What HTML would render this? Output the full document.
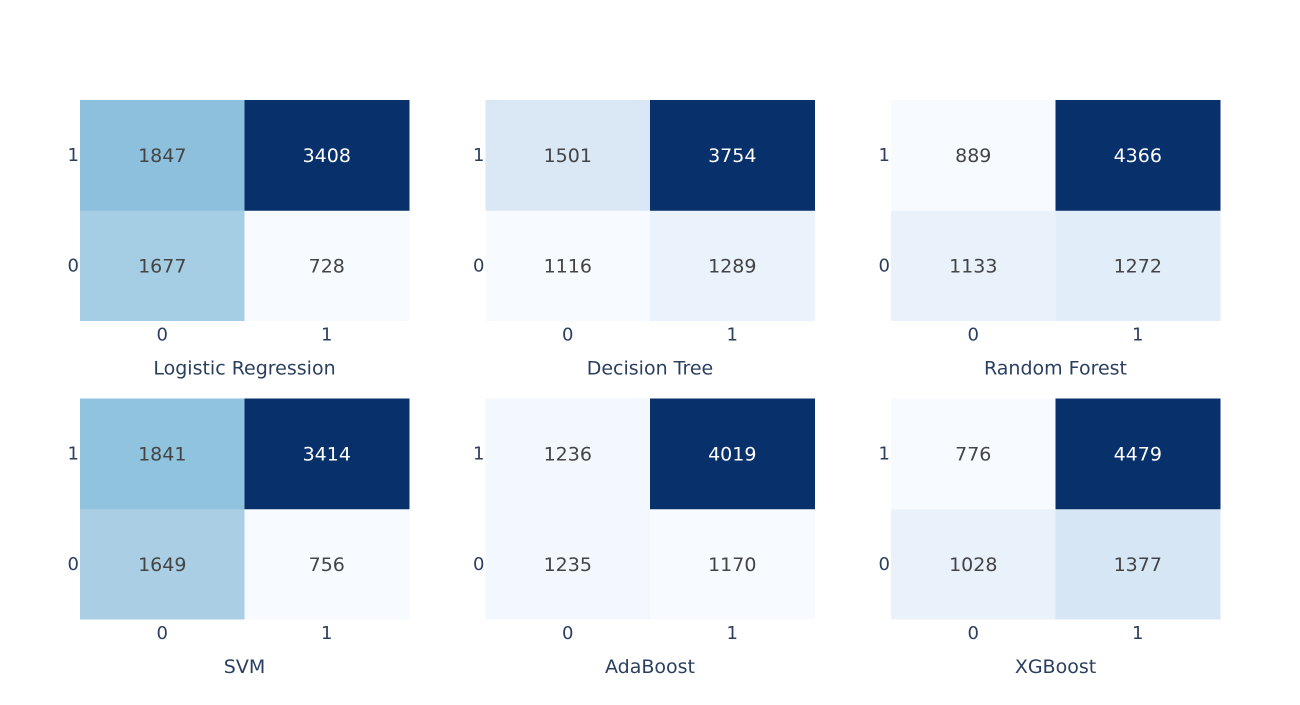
<!DOCTYPE html>
<html><head><meta charset="utf-8"><style>
body{margin:0;background:#fff;}
svg text{font-family:"DejaVu Sans","Liberation Sans",sans-serif;}
</style></head><body>
<svg id="chart" width="1300" height="700"></svg>
<script>
const models = ["Logistic Regression","Decision Tree","Random Forest","SVM","AdaBoost","XGBoost"];
const matrices = [
  [[1677,728],[1847,3408]],
  [[1116,1289],[1501,3754]],
  [[1133,1272],[889,4366]],
  [[1649,756],[1841,3414]],
  [[1235,1170],[1236,4019]],
  [[1028,1377],[776,4479]]
];
const xTicks = ["0","1"];
const yTicks = ["0","1"];

const NS="http://www.w3.org/2000/svg";
const svg=document.getElementById('chart');
const scale=[[247,251,255],[222,235,247],[198,219,239],[158,202,225],[107,174,214],[66,146,198],[33,113,181],[8,81,156],[8,48,107]];
function color(t){
  t=Math.max(0,Math.min(1,t));
  const p=t*(scale.length-1), i=Math.min(Math.floor(p),scale.length-2), f=p-i;
  const c=scale[i].map((v,k)=>Math.round(v+(scale[i+1][k]-v)*f));
  return {fill:`rgb(${c[0]},${c[1]},${c[2]})`, dark:t>0.6};
}
function el(tag,attrs,text){
  const e=document.createElementNS(NS,tag);
  for(const k in attrs) e.setAttribute(k,attrs[k]);
  if(text!==undefined) e.textContent=text;
  svg.appendChild(e); return e;
}
const colX=[80,485.5,891], rowY=[100,398.5], W=329, H=220.5;
models.forEach((m,idx)=>{
  const x0=colX[idx%3], y0=rowY[Math.floor(idx/3)];
  const mat=matrices[idx], flat=mat.flat();
  const mn=Math.min(...flat), mx=Math.max(...flat);
  const cw=W/xTicks.length, ch=H/yTicks.length;
  for(let r=0;r<yTicks.length;r++){
    for(let c=0;c<xTicks.length;c++){
      const v=mat[r][c], col=color((v-mn)/(mx-mn));
      const cx=x0+c*cw, cy=y0+H-(r+1)*ch;
      const rect=el('rect',{x:cx,y:cy,width:cw+0.5,height:ch+0.5,fill:col.fill});
      
      
      const t=el('text',{x:cx+cw/2,y:cy+ch/2+7,'text-anchor':'middle','font-size':19,fill:col.dark?'#fff':'#444'},String(v));
      
      
    }
  }
  xTicks.forEach((tk,c)=>{
    const t=el('text',{x:x0+c*cw+cw/2,y:y0+H+20,'text-anchor':'middle','font-size':18,fill:'#2a3f5f'},tk);
    
    
  });
  yTicks.forEach((tk,r)=>{
    const t=el('text',{x:x0-1,y:y0+H-(r+0.5)*ch+6,'text-anchor':'end','font-size':18,fill:'#2a3f5f'},tk);
    
    
  });
  const tt=el('text',{x:x0+W/2,y:y0+H+54,'text-anchor':'middle','font-size':19,fill:'#2a3f5f'},m);
  
  
});
</script>
</body></html>
